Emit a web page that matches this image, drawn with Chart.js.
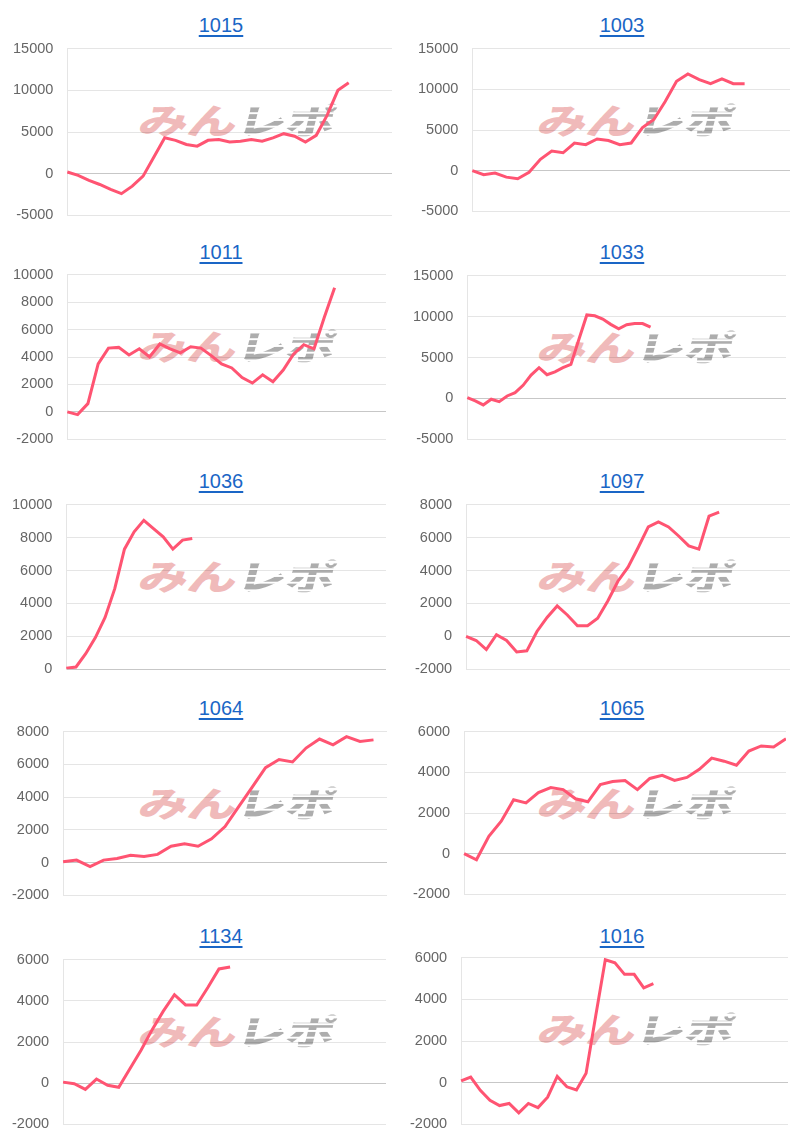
<!DOCTYPE html>
<html>
<head>
<meta charset="utf-8">
<script src="https://cdn.jsdelivr.net/npm/chart.js@4/dist/chart.umd.min.js"></script>
<style>
  body {
    margin: 0;
    background: #fff;
    width: 800px;
    height: 1139px;
    position: relative;
    overflow: hidden;
    font-family: "Liberation Sans", Arial, sans-serif;
  }
  .title {
    position: absolute;
    transform: translateX(-50%);
    font-size: 20px;
    line-height: 24px;
    color: #1a66c6;
    text-decoration: underline;
    text-underline-offset: 3px;
    text-decoration-thickness: 1.5px;
  }
  .wm {
    position: absolute;
    font-family: "Noto Sans CJK JP", sans-serif;
    font-weight: 900;
    font-size: 35px;
    line-height: 35px;
    white-space: nowrap;
    transform-origin: left top;
    transform: skewX(-14deg) scaleX(1.4);
    z-index: 0;
  }
  .wm .mi { color: #f0baba; }
  .wm .rp {
    color: transparent;
    background: repeating-linear-gradient(#adadad 0 5px, rgba(255,255,255,0) 5px 7px);
    -webkit-background-clip: text;
    background-clip: text;
  }
  canvas { position: absolute; z-index: 1; }
</style>
</head>
<body>
<script>
// 台番号
const titles = ["1015", "1003", "1011", "1033", "1036", "1097", "1064", "1065", "1134", "1016"];

// 差枚データ
const v1015 = [200, -200, -800, -1300, -1900, -2400, -1500, -300, 2000, 4300, 4000, 3500, 3300, 4000, 4100, 3800, 3900, 4100, 3900, 4300, 4800, 4500, 3800, 4600, 7000, 10000, 10900];
const v1003 = [0, -500, -300, -800, -1000, -200, 1400, 2400, 2200, 3400, 3200, 3900, 3700, 3200, 3400, 5300, 6300, 8500, 11000, 11900, 11200, 10700, 11300, 10700, 10700];
const v1011 = [0, -200, 600, 3500, 4650, 4700, 4150, 4600, 4000, 4950, 4600, 4300, 4750, 4650, 4100, 3500, 3200, 2500, 2100, 2700, 2200, 3050, 4200, 4900, 4600, 6900, 9050];
const v1033 = [100, -300, -800, -100, -400, 300, 700, 1600, 2850, 3750, 2900, 3250, 3750, 4150, 7200, 10200, 10100, 9700, 9050, 8500, 9000, 9150, 9150, 8700];
const v1036 = [60, 140, 950, 1930, 3150, 4900, 7300, 8350, 9050, 8550, 8050, 7300, 7850, 7950];
const v1097 = [0, -250, -800, 100, -250, -950, -880, 300, 1150, 1850, 1300, 650, 650, 1100, 2150, 3350, 4200, 5400, 6650, 6950, 6650, 6100, 5500, 5300, 7300, 7550];
const v1064 = [50, 150, -250, 150, 250, 450, 370, 500, 1000, 1150, 1000, 1450, 2200, 3400, 4600, 5800, 6300, 6150, 7000, 7550, 7200, 7700, 7400, 7500];
const v1065 = [0, -300, 850, 1600, 2650, 2500, 3000, 3250, 3150, 2700, 2550, 3400, 3550, 3600, 3150, 3700, 3850, 3600, 3750, 4150, 4700, 4550, 4350, 5050, 5300, 5250, 5650];
const v1134 = [50, -30, -300, 200, -100, -200, 700, 1600, 2600, 3500, 4300, 3800, 3800, 4650, 5550, 5650];
const v1016 = [80, 270, -370, -850, -1100, -1000, -1450, -1000, -1200, -700, 300, -200, -350, 450, 3200, 5900, 5750, 5200, 5200, 4550, 4750];

// x軸の枠数（ラベルは非表示）
const slotCounts = [31, 29, 32, 41, 34, 33, 25, 27, 30, 35];

// y軸の範囲
const yMins = [-5000, -5000, -2000, -5000, 0, -2000, -2000, -2000, -2000, -2000];
const yMaxs = [15000, 15000, 10000, 15000, 10000, 8000, 8000, 6000, 6000, 6000];
const ySteps = [5000, 5000, 2000, 5000, 2000, 2000, 2000, 2000, 2000, 2000];

const allValues = [v1015, v1003, v1011, v1033, v1036, v1097, v1064, v1065, v1134, v1016];

// レイアウト（グラフごと）
const canvasLefts = [-1, 404, -1, 399, -2, 401, -2, 399, -2, 396];
const canvasRights = [392, 790, 386, 786, 386, 790, 387, 786, 386, 788];
const plotTops = [48, 48, 274, 275, 504, 504, 731, 731, 959, 957];
const plotBottoms = [214, 210, 438, 438, 668, 668, 894, 893, 1123, 1123];
const padTop = 22;
const padBottom = 24;
const titleCenterX = [221, 622];
const titleCenterY = [25, 252, 481, 708, 936];
const wmLeft = [145, 544];

const lineColor = "rgb(255, 84, 114)";

function makeChart(k) {
  const col = k % 2;
  const row = Math.floor(k / 2);

  // タイトル
  const t = document.createElement("a");
  t.className = "title";
  t.textContent = titles[k];
  t.style.left = titleCenterX[col] + "px";
  t.style.top = titleCenterY[row] - 12 + "px";
  document.body.appendChild(t);

  // ウォーターマーク
  const wm = document.createElement("div");
  wm.className = "wm";
  wm.innerHTML = '<span class="mi">みん</span><span class="rp">レポ</span>';
  wm.style.left = wmLeft[col] + "px";
  wm.style.top = plotTops[k] + 53 + "px";
  document.body.appendChild(wm);

  // キャンバス
  const cv = document.createElement("canvas");
  const w = canvasRights[k] - canvasLefts[k];
  const h = plotBottoms[k] - plotTops[k] + padTop + padBottom;
  cv.width = w;
  cv.height = h;
  cv.style.width = w + "px";
  cv.style.height = h + "px";
  cv.style.left = canvasLefts[k] + "px";
  cv.style.top = plotTops[k] - padTop + "px";
  document.body.appendChild(cv);

  const labels = [];
  for (let i = 1; i <= slotCounts[k]; i++) labels.push(String(i));

  new Chart(cv, {
    type: "line",
    data: {
      labels: labels,
      datasets: [
        {
          data: allValues[k],
          borderColor: lineColor,
          borderWidth: 3,
          pointRadius: 0,
          pointHoverRadius: 0,
          fill: false,
          tension: 0,
        },
      ],
    },
    options: {
      responsive: false,
      animation: false,
      devicePixelRatio: 1,
      layout: { padding: 0 },
      plugins: {
        legend: { display: false },
        tooltip: { enabled: false },
      },
      scales: {
        x: { display: false },
        y: {
          min: yMins[k],
          max: yMaxs[k],
          ticks: {
            stepSize: ySteps[k],
            color: "#666",
            padding: 14,
            font: { size: 14.5, family: "'Liberation Sans', Arial, sans-serif" },
            callback: (v) => String(v),
          },
          grid: {
            drawTicks: false,
            color: (ctx) =>
              ctx.tick && ctx.tick.value === 0 ? "rgba(0,0,0,0.22)" : "rgba(0,0,0,0.1)",
          },
          border: { color: "rgba(0,0,0,0.1)" },
        },
      },
    },
  });
}

for (let k = 0; k < titles.length; k++) makeChart(k);
</script>
</body>
</html>
